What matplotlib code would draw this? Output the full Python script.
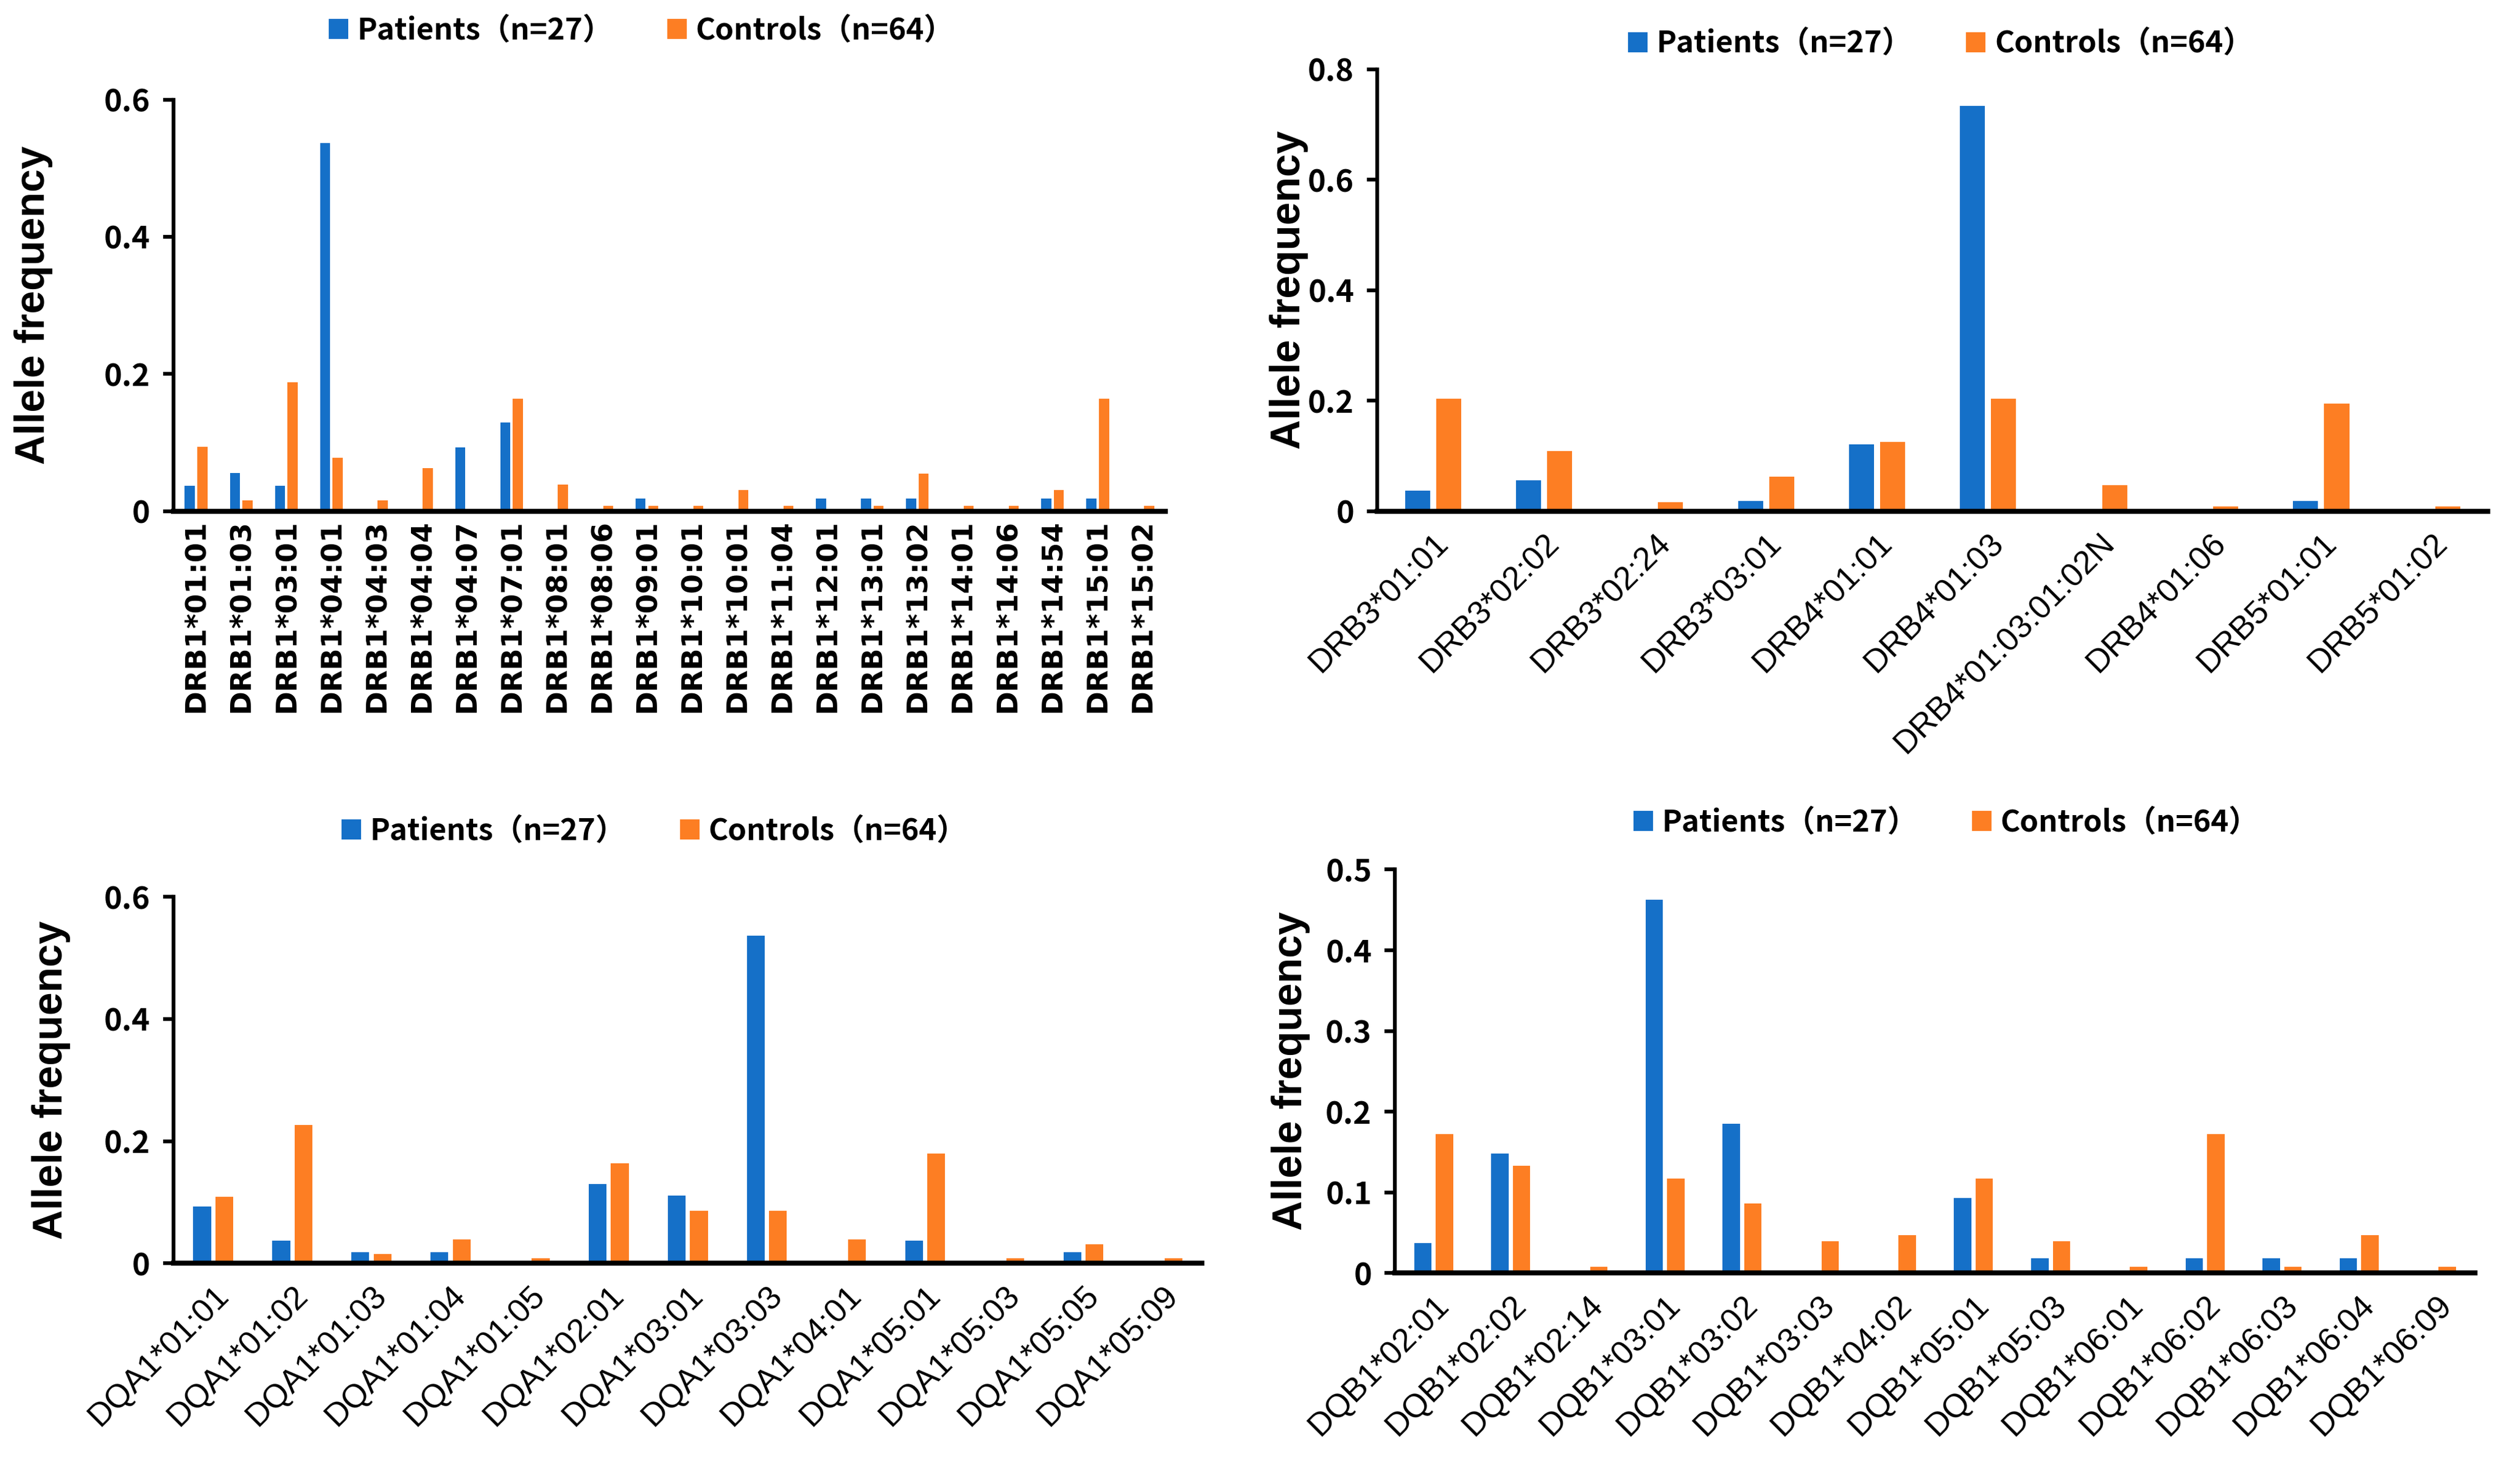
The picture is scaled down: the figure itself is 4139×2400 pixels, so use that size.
import matplotlib
matplotlib.use('Agg')
import matplotlib.pyplot as plt
from matplotlib.patches import Patch
from matplotlib.ticker import FuncFormatter
from matplotlib import font_manager
import numpy as np

# ---------------- data ----------------
drb1_labels = ["DRB1*01:01", "DRB1*01:03", "DRB1*03:01", "DRB1*04:01", "DRB1*04:03",
               "DRB1*04:04", "DRB1*04:07", "DRB1*07:01", "DRB1*08:01", "DRB1*08:06",
               "DRB1*09:01", "DRB1*10:01", "DRB1*10:01", "DRB1*11:04", "DRB1*12:01",
               "DRB1*13:01", "DRB1*13:02", "DRB1*14:01", "DRB1*14:06", "DRB1*14:54",
               "DRB1*15:01", "DRB1*15:02"]
drb1_patients = [0.037, 0.0556, 0.037, 0.537, 0, 0, 0.0926, 0.1296, 0, 0, 0.0185,
                 0, 0, 0, 0.0185, 0.0185, 0.0185, 0, 0, 0.0185, 0.0185, 0]
drb1_controls = [0.094, 0.0156, 0.1875, 0.078, 0.0156, 0.0625, 0, 0.164, 0.039, 0.0078,
                 0.0078, 0.0078, 0.031, 0.0078, 0, 0.0078, 0.0547, 0.0078, 0.0078, 0.031,
                 0.164, 0.0078]

drb345_labels = ["DRB3*01:01", "DRB3*02:02", "DRB3*02:24", "DRB3*03:01", "DRB4*01:01",
                 "DRB4*01:03", "DRB4*01:03:01:02N", "DRB4*01:06", "DRB5*01:01", "DRB5*01:02"]
drb345_patients = [0.037, 0.0556, 0, 0.0185, 0.121, 0.733, 0, 0, 0.0185, 0]
drb345_controls = [0.203, 0.109, 0.0156, 0.0625, 0.125, 0.203, 0.047, 0.0078, 0.195, 0.0078]

dqa1_labels = ["DQA1*01:01", "DQA1*01:02", "DQA1*01:03", "DQA1*01:04", "DQA1*01:05",
               "DQA1*02:01", "DQA1*03:01", "DQA1*03:03", "DQA1*04:01", "DQA1*05:01",
               "DQA1*05:03", "DQA1*05:05", "DQA1*05:09"]
dqa1_patients = [0.0926, 0.037, 0.0185, 0.0185, 0, 0.1296, 0.111, 0.537, 0, 0.037, 0, 0.0185, 0]
dqa1_controls = [0.109, 0.227, 0.0156, 0.039, 0.0078, 0.164, 0.086, 0.086, 0.039, 0.18,
                 0.0078, 0.031, 0.0078]

dqb1_labels = ["DQB1*02:01", "DQB1*02:02", "DQB1*02:14", "DQB1*03:01", "DQB1*03:02",
               "DQB1*03:03", "DQB1*04:02", "DQB1*05:01", "DQB1*05:03", "DQB1*06:01",
               "DQB1*06:02", "DQB1*06:03", "DQB1*06:04", "DQB1*06:09"]
dqb1_patients = [0.037, 0.148, 0, 0.463, 0.185, 0, 0, 0.0926, 0.0185, 0, 0.0185, 0.0185, 0.0185, 0]
dqb1_controls = [0.172, 0.133, 0.0078, 0.117, 0.086, 0.039, 0.047, 0.117, 0.039, 0.0078,
                 0.172, 0.0078, 0.047, 0.0078]

legend_labels = ["Patients\uff08n=27\uff09", "Controls\uff08n=64\uff09"]

# ---------------- style ----------------
BLUE = "#1570C8"
ORANGE = "#FD7E23"
names = {f.name for f in font_manager.fontManager.ttflist}
NARROW = "Liberation Sans Narrow" if "Liberation Sans Narrow" in names else "Noto Sans CJK JP"
SANS = "Liberation Sans" if "Liberation Sans" in names else "DejaVu Sans"
LEG = ["Noto Sans CJK JP", "DejaVu Sans"]

fig = plt.figure(figsize=(4139 / 250, 2400 / 250), dpi=250)

panels = [
    dict(labels=drb1_labels, p=drb1_patients, c=drb1_controls, rect=[0.0689, 0.6502, 0.3935, 0.2816],
         ymax=0.6, step=0.2, rot=90, leg=(0.2545, 0.979), ylab_x=0.021),
    dict(labels=drb345_labels, p=drb345_patients, c=drb345_controls, rect=[0.5466, 0.6502, 0.4406, 0.3025],
         ymax=0.8, step=0.2, rot=45, leg=(0.770, 0.970), ylab_x=0.5193),
    dict(labels=dqa1_labels, p=dqa1_patients, c=dqa1_controls, rect=[0.0689, 0.1353, 0.4081, 0.2508],
         ymax=0.6, step=0.2, rot=45, leg=(0.2596, 0.431), ylab_x=0.028),
    dict(labels=dqb1_labels, p=dqb1_patients, c=dqb1_controls, rect=[0.5536, 0.1287, 0.4285, 0.2761],
         ymax=0.5, step=0.1, rot=45, leg=(0.7723, 0.437), ylab_x=0.520),
]

fmt = FuncFormatter(lambda v, pos: "0" if abs(v) < 1e-9 else f"{v:g}")

for pn in panels:
    ax = fig.add_axes(pn["rect"])
    n = len(pn["labels"])
    x = np.arange(n)
    w = 0.225
    off = 0.14
    ax.bar(x - off, pn["p"], width=w, color=BLUE, linewidth=0)
    ax.bar(x + off, pn["c"], width=w, color=ORANGE, linewidth=0)
    ax.set_xlim(-0.5, n - 0.5)
    ax.set_ylim(0, pn["ymax"])
    ax.set_yticks(np.round(np.arange(0, pn["ymax"] + 1e-9, pn["step"]), 2))
    ax.yaxis.set_major_formatter(fmt)
    for s in ("top", "right"):
        ax.spines[s].set_visible(False)
    ax.spines["left"].set_linewidth(1.8)
    ax.spines["bottom"].set_linewidth(2.4)
    ax.tick_params(axis="y", length=5, width=1.8, pad=6, direction="out")
    for t in ax.get_yticklabels():
        t.set_fontfamily(NARROW)
        t.set_fontsize(14.5)
        t.set_fontweight("bold")
    ax.set_xticks(x)
    if pn["rot"] == 90:
        ax.set_xticklabels(pn["labels"], rotation=90, fontsize=13.5, fontweight="bold",
                           fontfamily="DejaVu Sans", va="top", ha="center")
        ax.tick_params(axis="x", length=0, pad=4)
    else:
        ax.set_xticklabels(pn["labels"], rotation=45, fontsize=15.5, fontfamily=SANS,
                           ha="right", va="top", rotation_mode="anchor")
        ax.tick_params(axis="x", length=0, pad=8)
    ax.set_ylabel("Allele frequency", fontsize=19.5, fontweight="bold", fontfamily=SANS)
    cy = pn["rect"][1] + pn["rect"][3] / 2
    ax.yaxis.set_label_coords(pn["ylab_x"], cy, transform=fig.transFigure)
    handles = [Patch(facecolor=BLUE, edgecolor="none"), Patch(facecolor=ORANGE, edgecolor="none")]
    fig.legend(handles, legend_labels, loc="center", bbox_to_anchor=pn["leg"], ncol=2,
               frameon=False, handlelength=0.65, handleheight=0.65, handletextpad=0.3,
               columnspacing=1.8, prop=dict(family=LEG, size=14.2, weight="bold"))

fig.savefig("out.png", dpi=250, facecolor="white")
